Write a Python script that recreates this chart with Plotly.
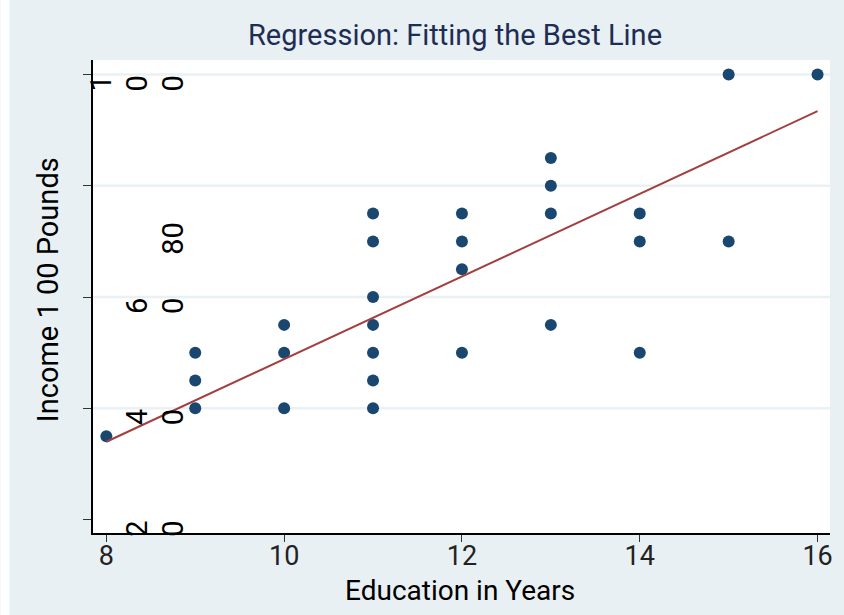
import plotly.graph_objects as go

# Years of education and income (in 1 00 pounds) for each respondent
educ = [8,
        9, 9, 9,
        10, 10, 10,
        11, 11, 11, 11, 11, 11, 11,
        12, 12, 12, 12,
        13, 13, 13, 13,
        14, 14, 14,
        15, 15,
        16]
income = [35,
          50, 45, 40,
          55, 50, 40,
          75, 70, 60, 55, 50, 45, 40,
          75, 70, 65, 50,
          85, 80, 75, 55,
          75, 70, 50,
          100, 70,
          100]

# End points of the fitted regression line
fit_educ = [8, 16]
fit_income = [34.0, 93.4]

x_ticks = [8, 10, 12, 14, 16]
y_ticks = [20, 40, 60, 80, 100]
y_tick_labels = [str(v) for v in y_ticks]

title_text = "Regression: Fitting the Best Line"
x_title = "Education in Years"
y_title = "Income 1 00 Pounds"

# ---- layout geometry (pixels) ----
W, H = 844, 615
ML, MR, MT, MB = 93, 11, 60, 82
PW = W - ML - MR
PH = H - MT - MB

OUTER_BG = "#e8f0f3"
GRID = "#eaf1f4"
NAVY = "#1a476f"
MAROON = "#a23f3f"
FONT = "Roboto"

fig = go.Figure()

fig.add_trace(go.Scatter(
    x=educ, y=income, mode="markers",
    marker=dict(color=NAVY, size=12, line=dict(width=0)),
    showlegend=False, hoverinfo="x+y",
))
fig.add_trace(go.Scatter(
    x=fit_educ, y=fit_income, mode="lines",
    line=dict(color=MAROON, width=2),
    showlegend=False, hoverinfo="skip",
))

shapes = []
# white strip down the left edge of the page
shapes.append(dict(
    type="rect", xref="paper", yref="paper", layer="below",
    x0=-ML / PW, x1=(9 - ML) / PW, y0=-MB / PH - 0.05, y1=1 + MT / PH + 0.05,
    fillcolor="white", line=dict(width=0),
))
# horizontal grid lines (none at the lowest tick)
for v in y_ticks[1:]:
    shapes.append(dict(
        type="line", xref="paper", yref="y", layer="below",
        x0=0, x1=1, y0=v, y1=v,
        line=dict(color=GRID, width=2.5),
    ))

annotations = []
# y tick labels: each digit set as its own rotated glyph
COL_RIGHT = 80   # pixel offset of the right-most glyph column from the axis
COL_STEP = 36
for v, lab in zip(y_ticks, y_tick_labels):
    if lab == "80":
        annotations.append(dict(
            x=0, y=v, xref="paper", yref="y", text=lab, textangle=-90,
            xshift=COL_RIGHT, yshift=-53, showarrow=False,
            xanchor="center", yanchor="middle",
            font=dict(family=FONT, size=29, color="black"),
        ))
        continue
    n = len(lab)
    for i, ch in enumerate(lab):
        annotations.append(dict(
            x=0, y=v, xref="paper", yref="y", text=ch, textangle=-90,
            xshift=COL_RIGHT - COL_STEP * (n - 1 - i), yshift=-9,
            showarrow=False, xanchor="center", yanchor="middle",
            font=dict(family=FONT, size=29, color="black"),
        ))

# y axis title
annotations.append(dict(
    x=(48 - ML) / PW, y=0.5 - (290 - (MT + PH / 2)) / PH,
    xref="paper", yref="paper", text=y_title, textangle=-90,
    showarrow=False, xanchor="center", yanchor="middle",
    font=dict(family=FONT, size=29, color="black"),
))
# x axis title
annotations.append(dict(
    x=(461 - ML) / PW, y=-(590 - MT - PH) / PH,
    xref="paper", yref="paper", text=x_title,
    showarrow=False, xanchor="center", yanchor="middle",
    font=dict(family=FONT, size=28, color="black"),
))
# chart title
annotations.append(dict(
    x=(456 - ML) / PW, y=1 + (MT - 35) / PH,
    xref="paper", yref="paper", text=title_text,
    showarrow=False, xanchor="center", yanchor="middle",
    font=dict(family=FONT, size=29, color="#1e2d53"),
))

fig.update_layout(
    width=W, height=H,
    margin=dict(l=ML, r=MR, t=MT, b=MB, pad=0),
    paper_bgcolor=OUTER_BG,
    plot_bgcolor="white",
    shapes=shapes,
    annotations=annotations,
    xaxis=dict(
        range=[7.85, 16.14], tickvals=x_ticks,
        ticktext=[str(t) for t in x_ticks],
        showgrid=False, zeroline=False,
        showline=True, linecolor="black", linewidth=1.5,
        ticks="outside", ticklen=7, tickcolor="#333", tickwidth=1,
        ticklabelstandoff=-9,
        tickfont=dict(family=FONT, size=27, color="#222"),
        fixedrange=True,
    ),
    yaxis=dict(
        range=[17.6, 102.6], tickvals=y_ticks,
        showticklabels=False,
        showgrid=False, zeroline=False,
        showline=True, linecolor="black", linewidth=1.5,
        ticks="outside", ticklen=8, tickcolor="#333", tickwidth=1,
        fixedrange=True,
    ),
)

fig.write_html("out.html")
